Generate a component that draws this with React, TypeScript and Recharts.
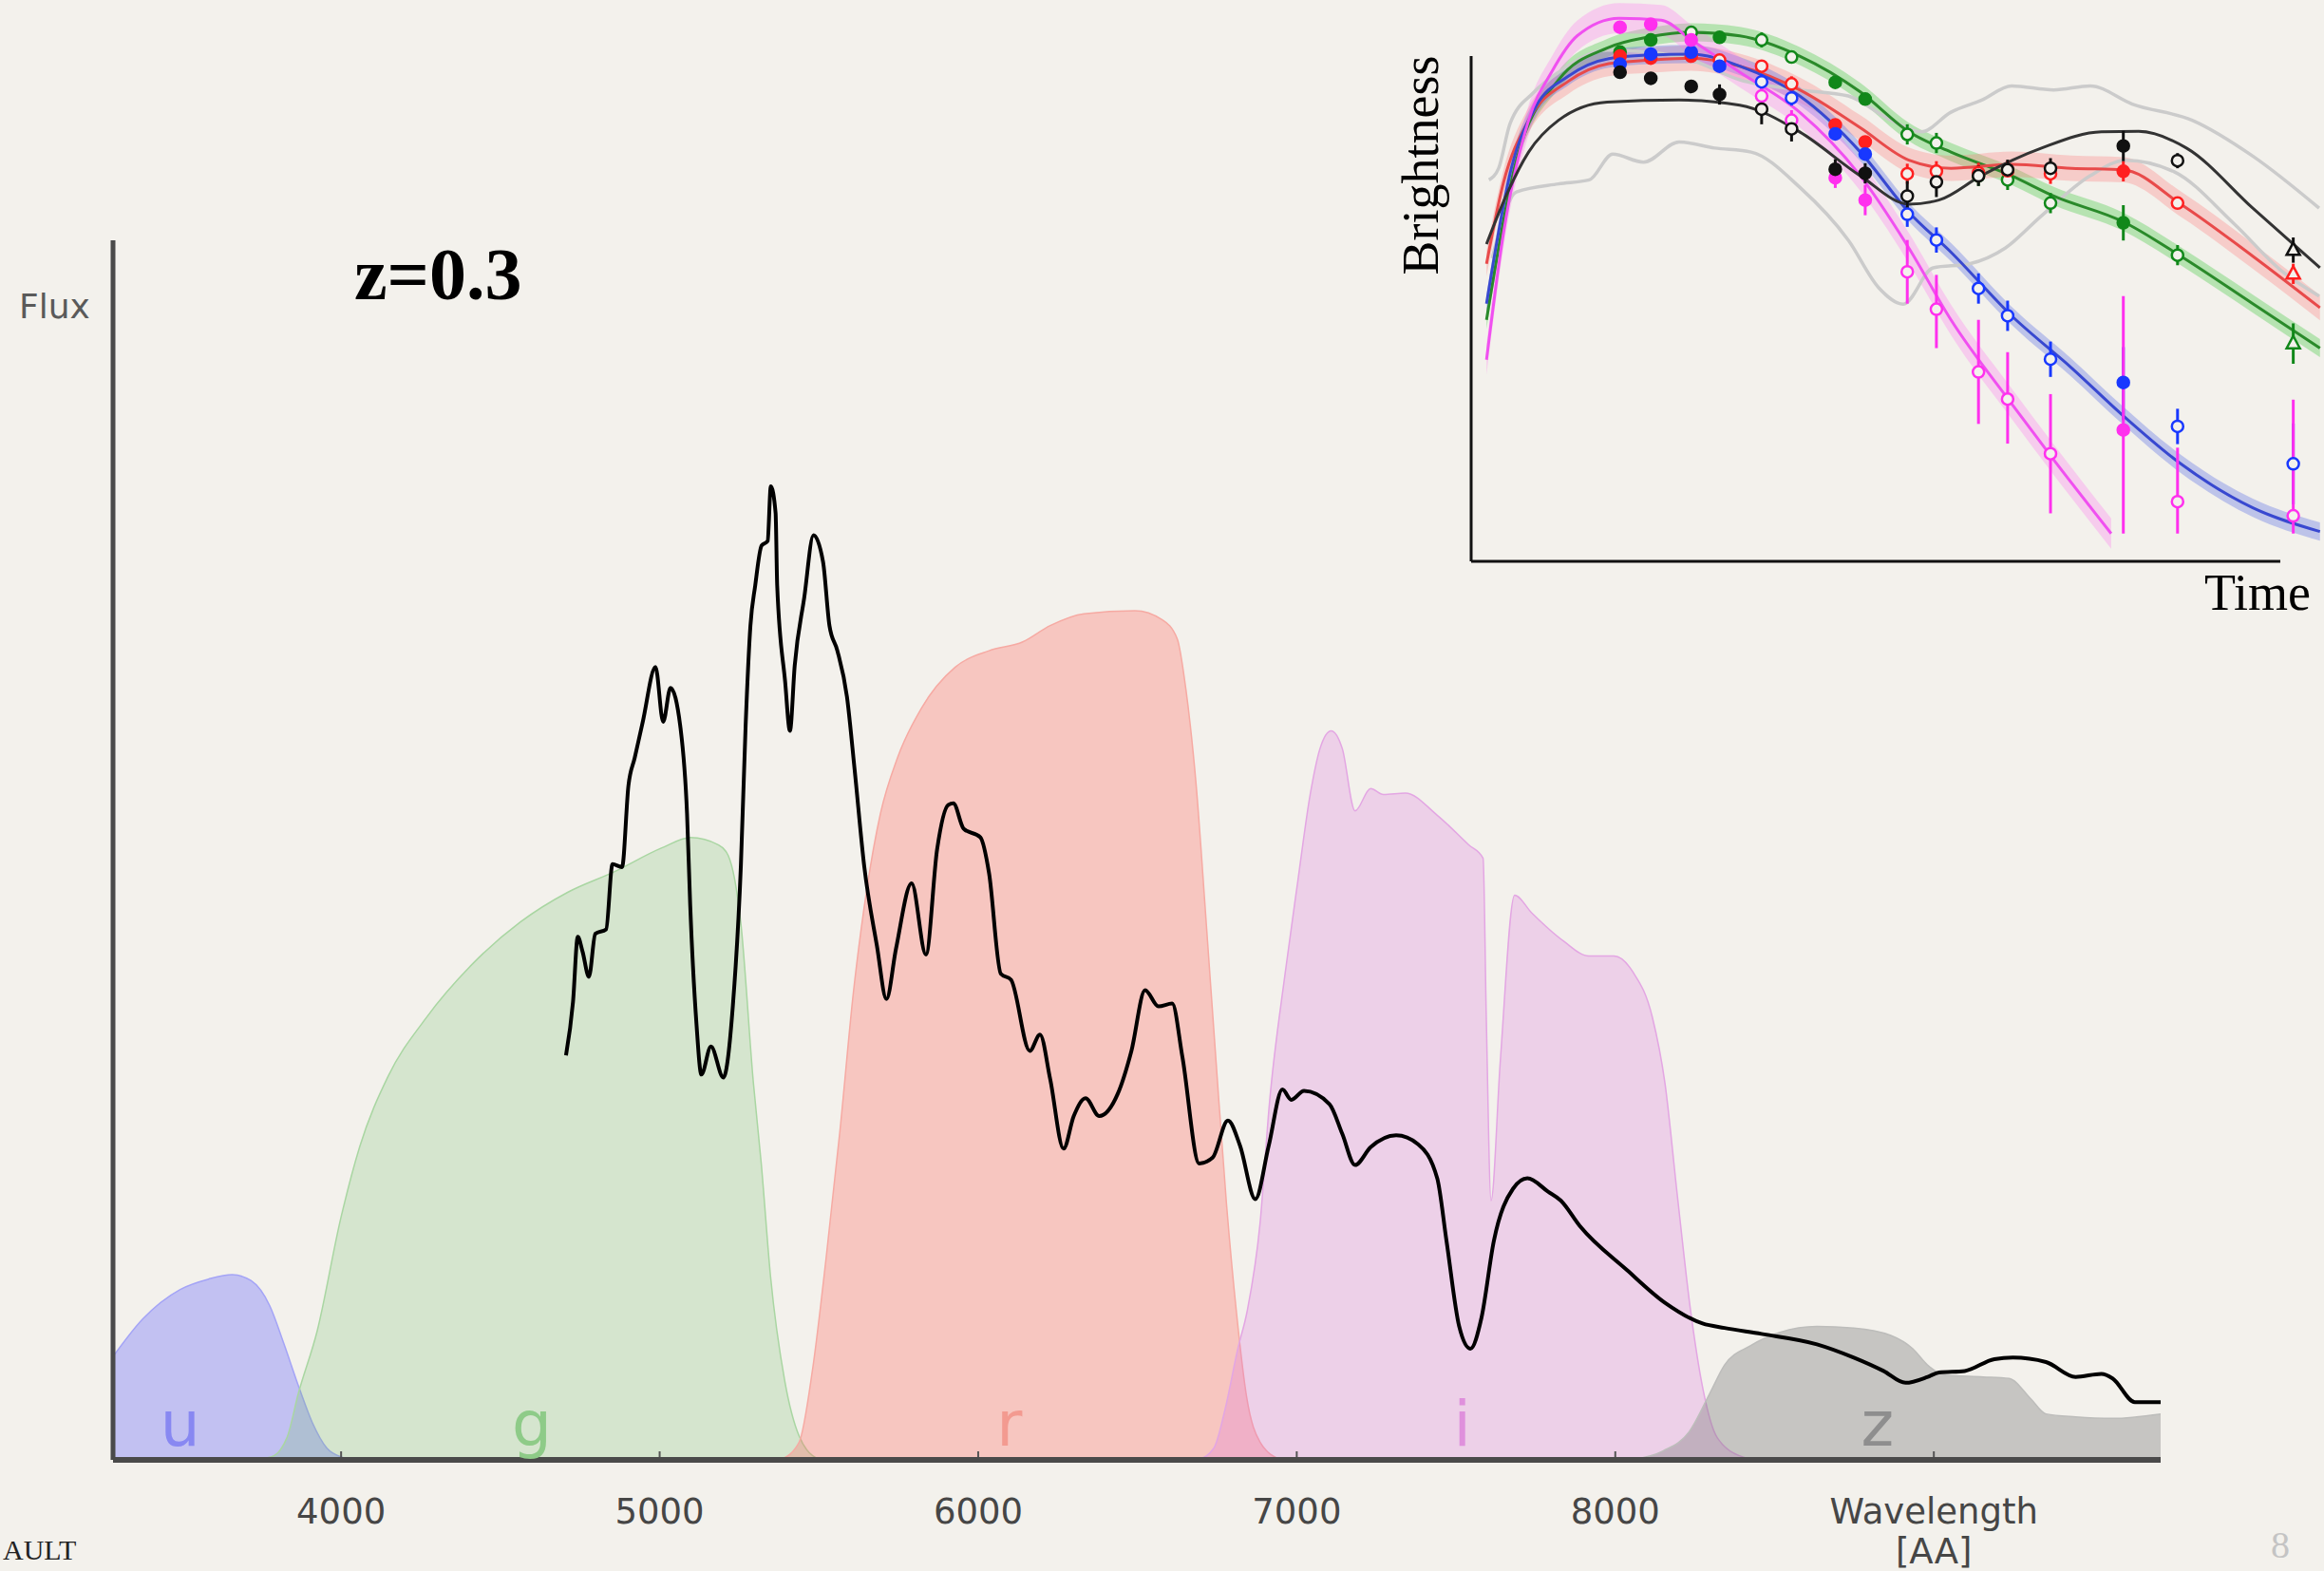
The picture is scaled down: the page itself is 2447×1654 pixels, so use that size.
import React from "react";
import { ComposedChart, Area, Line, Scatter, XAxis, YAxis, ErrorBar, ReferenceLine } from "recharts";

if (typeof document !== "undefined") document.body.style.margin = "0";

const W = 2447;
const H = 1654;
const BG = "#f3f1ec";
const SANS = "'DejaVu Sans', Verdana, sans-serif";
const SERIF = "'Liberation Serif', 'Times New Roman', serif";

// ---- main panel: filter transmission + spectrum, [wavelength AA, flux]
const U_BAND = [[3285, 70], [3377, 95], [3495, 115], [3584, 122], [3658, 125], [3717, 121], [3776, 104], [3821, 78], [3866, 50], [3910, 25], [3955, 8], [4000, 2], [4050, 0]];
const G_BAND = [[3700, 0], [3780, 2], [3830, 15], [3866, 45], [3925, 87], [3999, 163], [4058, 211], [4148, 259], [4266, 298], [4414, 335], [4563, 363], [4711, 383], [4859, 397], [5007, 413], [5097, 420], [5185, 415], [5215, 408], [5255, 362], [5294, 255], [5319, 200], [5348, 124], [5393, 53], [5438, 16], [5500, 0]];
const R_BAND = [[5380, 0], [5438, 12], [5480, 61], [5523, 137], [5566, 222], [5608, 315], [5651, 386], [5693, 436], [5747, 474], [5821, 507], [5928, 535], [6034, 546], [6140, 552], [6226, 563], [6332, 571], [6492, 573], [6577, 567], [6625, 554], [6652, 520], [6684, 456], [6716, 362], [6747, 268], [6779, 174], [6811, 99], [6843, 42], [6885, 12], [6950, 0]];
const I_BAND = [[6690, 0], [6740, 8], [6776, 35], [6815, 75], [6844, 100], [6885, 160], [6914, 240], [6964, 329], [7003, 390], [7043, 450], [7073, 480], [7108, 492], [7143, 480], [7183, 438], [7232, 453], [7272, 449], [7341, 450], [7441, 435], [7540, 415], [7585, 406], [7595, 299], [7610, 175], [7639, 269], [7684, 381], [7738, 369], [7838, 350], [7917, 340], [7996, 340], [8056, 329], [8116, 299], [8156, 254], [8195, 178], [8235, 103], [8275, 48], [8320, 15], [8400, 2], [8450, 0]];
const Z_BAND = [[8050, 0], [8150, 6], [8232, 19], [8297, 45], [8343, 64], [8424, 77], [8517, 86], [8633, 90], [8749, 89], [8865, 84], [8934, 75], [8980, 64], [9039, 57], [9155, 56], [9236, 55], [9305, 41], [9352, 31], [9445, 29], [9561, 28], [9712, 31]];

const SPECTRUM = [[4706, 273], [4728, 309], [4743, 353], [4758, 343], [4778, 326], [4798, 355], [4832, 358], [4852, 402], [4882, 400], [4902, 455], [4922, 474], [4947, 498], [4987, 535], [5011, 498], [5034, 521], [5066, 493], [5086, 436], [5096, 374], [5116, 293], [5131, 260], [5161, 279], [5200, 258], [5230, 307], [5255, 401], [5270, 496], [5285, 563], [5300, 590], [5320, 617], [5339, 620], [5349, 657], [5364, 639], [5369, 590], [5394, 525], [5409, 492], [5424, 536], [5454, 582], [5483, 624], [5513, 606], [5533, 563], [5558, 546], [5588, 515], [5612, 466], [5642, 401], [5682, 347], [5712, 311], [5742, 345], [5791, 389], [5836, 341], [5871, 412], [5906, 442], [5922, 443], [5954, 426], [6007, 420], [6034, 396], [6071, 328], [6103, 324], [6162, 276], [6194, 287], [6226, 257], [6268, 210], [6300, 232], [6337, 244], [6380, 232], [6438, 247], [6481, 276], [6524, 317], [6566, 306], [6609, 308], [6641, 272], [6694, 200], [6736, 204], [6784, 229], [6822, 212], [6870, 176], [6912, 212], [6955, 250], [6983, 243], [7023, 249], [7103, 240], [7143, 220], [7183, 199], [7232, 211], [7312, 219], [7381, 213], [7441, 190], [7470, 148], [7510, 90], [7545, 75], [7580, 96], [7619, 148], [7679, 183], [7724, 190], [7789, 181], [7829, 175], [7888, 158], [8037, 128], [8156, 106], [8274, 92], [8343, 89], [8459, 85], [8633, 78], [8749, 69], [8842, 60], [8911, 52], [8981, 56], [9016, 59], [9097, 60], [9190, 68], [9248, 69], [9352, 66], [9445, 56], [9526, 58], [9561, 55], [9631, 39], [9712, 39]];

const WAVE_TICKS = [4000, 5000, 6000, 7000, 8000, 9000];
const FILTER_NAMES = ["u", "g", "r", "i", "z"];
const FILTER_CENTERS = [3495, 4599, 6098, 7520, 8823];

const FILTER_STYLE = [
  { data: U_BAND, fill: "rgb(100,100,255)", op: 0.34, stroke: "#a4a4f6", text: "#8888f2" },
  { data: G_BAND, fill: "rgb(110,185,100)", op: 0.22, stroke: "#a9d6a2", text: "#8ecb88" },
  { data: R_BAND, fill: "rgb(255,110,100)", op: 0.32, stroke: "#f6aaa3", text: "#f39a90" },
  { data: I_BAND, fill: "rgb(220,110,220)", op: 0.25, stroke: "#e3a6e3", text: "#df90dc" },
  { data: Z_BAND, fill: "rgb(120,120,120)", op: 0.36, stroke: "#bdbdbb", text: "#8e8e8e" },
];

// ---- inset: light curves, [time, brightness]
const C_BLACK = [[1.9, 62.8], [4.5, 73], [7.1, 81], [10.8, 87.3], [16.8, 90.9], [25.7, 91.3], [33.2, 90.3], [40.6, 85], [48.1, 76.3], [54.1, 70.7], [57.8, 71.5], [63, 76.3], [70.5, 81.8], [77.9, 85], [82.5, 85.1], [88.4, 81.8], [96.6, 69.9], [104.9, 58.1]];
const C_RED = [[1.9, 58.9], [4, 75], [7.1, 87.3], [12, 95], [17, 98.5], [22, 99.2], [27.2, 99.6], [33.2, 98], [40.6, 93.3], [48.1, 85.8], [54.1, 79.4], [59.3, 77.8], [66.8, 78.6], [74.2, 77.8], [80.6, 77.5], [87.7, 70.7], [96.6, 60.4], [104.9, 50.2]];
const C_GREEN = [[1.9, 47.8], [5.6, 79.4], [10.8, 95.3], [16.8, 101.6], [22, 103.8], [27.2, 104.7], [33.2, 104], [40.6, 100], [48.1, 92.9], [54.1, 85], [59.3, 81], [66.8, 76.3], [72, 72.3], [80.6, 67.2], [87.7, 60.4], [96.6, 51], [104.9, 42.2]];
const C_BLUE = [[1.9, 51], [5, 78], [8, 90], [12, 96], [17, 99.5], [22, 100.2], [27.2, 100.4], [33.2, 98], [40.6, 92.1], [48.1, 81], [54.1, 69.1], [59.3, 61.2], [66.8, 48.6], [74.2, 38.3], [80.6, 28.8], [87.7, 19.3], [96.6, 10.6], [104.9, 5.9]];
const C_MAGENTA = [[1.9, 39.9], [4, 65], [7.1, 87.3], [10, 97], [13.1, 104], [18.3, 107.5], [23.5, 107.1], [27.2, 103.2], [33.2, 96.8], [40.6, 88.9], [48.1, 76.3], [54.1, 62], [59.3, 47.8], [66.8, 31.2], [72, 20.1], [79.1, 5.5]];
const C_GRAY_A = [[2.2, 75.5], [3.4, 77.8], [4.8, 86.6], [7.8, 92.9], [10.8, 96.8], [16.8, 101.2], [21.9, 100.8], [27.2, 99.2], [33.2, 95.3], [40.7, 93.3], [46.6, 92.1], [51.9, 87.3], [55.6, 85], [59.3, 88.9], [63.1, 91.3], [66.8, 94.1], [72, 93.3], [76.5, 94.1], [81.7, 90.5], [89.1, 87.3], [96.6, 80.2], [104.8, 69.9]];
const C_GRAY_B = [[2.6, 60], [5.6, 73.1], [10.8, 74.7], [14.6, 75.5], [17.5, 80.6], [21.3, 79], [25.7, 83], [30.1, 81.8], [34.6, 81], [40.7, 73.9], [46.6, 63.6], [50.4, 54.1], [53.4, 50.9], [57.1, 58.1], [61.6, 58.9], [66, 62], [70.5, 68.4], [76.5, 76.3], [80.9, 79.4], [86.9, 77.1], [94.3, 66.8], [100.3, 57.3], [104.8, 52.5]];

// observations: [time, brightness, marker (f filled / o open / v triangle), err down, err up]
const P_MAGENTA = [[18.4, 105.7, "f", 1, 1], [22.2, 106.3, "f", 1, 1], [27.2, 103.2, "f", 1, 1], [35.9, 92.1, "o", 2, 2], [39.6, 87.3, "o", 2, 2], [45, 75.9, "f", 2, 2], [48.7, 71.5, "f", 3, 3], [53.9, 57.3, "o", 6.3, 6.3], [57.5, 49.9, "o", 7.7, 6.8], [62.7, 37.5, "o", 10.3, 10.3], [66.3, 32.1, "o", 8.8, 9.3], [71.6, 21.3, "o", 11.8, 11.8], [80.6, 26, "f", 20.5, 26.5], [87.3, 11.8, "o", 6.3, 10.7], [101.6, 9, "o", 3.5, 23]];
const P_BLUE = [[18.4, 98.4, "f", 1, 1], [22.2, 100.4, "f", 1, 1], [27.2, 100.8, "f", 1, 1], [30.7, 98, "f", 1, 1], [35.9, 94.9, "o", 1.5, 1.5], [39.6, 91.7, "o", 1.5, 1.5], [45, 84.6, "f", 1, 1], [48.7, 80.6, "f", 1, 1], [53.9, 68.7, "o", 2.5, 2.5], [57.5, 63.6, "o", 2.5, 2.5], [62.7, 54, "o", 3, 3], [66.3, 48.6, "o", 3, 3], [71.6, 40, "o", 3.5, 3.5], [80.6, 35.4, "f", 7.5, 7], [87.3, 26.7, "o", 3.5, 3.5], [101.6, 19.3, "o", 8, 8]];
const P_RED = [[18.4, 100, "f", 1, 1], [22.2, 99.6, "f", 1, 1], [27.2, 100, "f", 1, 1], [30.7, 99.2, "o", 1, 1], [35.9, 98, "o", 1, 1], [39.6, 94.5, "o", 1.5, 1.5], [45, 86.4, "f", 1, 1], [48.7, 83, "f", 1, 1], [53.9, 76.7, "o", 2, 2], [57.5, 77.2, "o", 2, 2], [62.7, 76.9, "o", 2, 2], [66.3, 77.3, "o", 2, 2], [71.6, 76.7, "o", 2, 2], [80.6, 77.2, "f", 2, 2], [87.3, 70.9, "o", 1, 1], [101.6, 56.9, "v", 2, 2]];
const P_GREEN = [[18.4, 100.8, "f", 1, 1], [22.2, 103.2, "f", 1, 1], [27.2, 104.7, "o", 1, 1], [30.7, 103.7, "f", 1, 1], [35.9, 103.2, "o", 1.5, 1.5], [39.6, 99.8, "o", 1, 1], [45, 94.8, "f", 1, 1], [48.7, 91.5, "f", 1, 1], [53.9, 84.5, "o", 2, 2], [57.5, 82.8, "o", 2, 2], [62.7, 76.3, "o", 2, 2], [66.3, 75.5, "o", 2, 2], [71.6, 70.9, "o", 2, 2], [80.6, 67, "f", 3.5, 3.5], [87.3, 60.6, "o", 2, 2], [101.6, 43.1, "v", 4, 4]];
const P_BLACK = [[18.4, 96.8, "f", 1, 1], [22.2, 95.6, "f", 1, 1], [27.2, 94, "f", 1, 1], [30.7, 92.4, "f", 2, 2], [35.9, 89.5, "o", 3, 3], [39.6, 85.6, "o", 2.5, 2.5], [45, 77.6, "f", 2, 2], [48.7, 76.8, "f", 2, 2], [53.9, 72.3, "o", 3, 3], [57.5, 75.1, "o", 3, 3], [62.7, 76.3, "o", 2, 2], [66.3, 77.5, "o", 2, 2], [71.6, 77.8, "o", 2, 2], [80.6, 82.2, "f", 3, 3], [87.3, 79.3, "o", 1.5, 1.5], [101.6, 61.6, "v", 2.5, 2.5]];

const SERIES = [
  { curve: C_GREEN, pts: P_GREEN, line: "#2a8a2a", mark: "#11881a", band: "rgba(70,200,70,0.35)", half: 1.8 },
  { curve: C_RED, pts: P_RED, line: "#e84a4a", mark: "#ff2020", band: "rgba(255,120,120,0.3)", half: 2.5 },
  { curve: C_BLUE, pts: P_BLUE, line: "#3848d0", mark: "#1838ff", band: "rgba(90,110,230,0.35)", half: 1.8 },
  { curve: C_MAGENTA, pts: P_MAGENTA, line: "#f050f0", mark: "#ff30ee", band: "rgba(255,120,240,0.3)", half: 3 },
  { curve: C_BLACK, pts: P_BLACK, line: "#333333", mark: "#111111", band: null, half: 0 },
];

const toWF = (arr: number[][]) => arr.map(([w, f]) => ({ w, f }));
const toTB = (arr: number[][]) => arr.map(([t, b]) => ({ t, b }));
const toPts = (arr: any[][]) => arr.map(([t, b, k, lo, hi]) => ({ t, b, k, e: [lo, hi] }));

function WaveTick(props: any) {
  const { x, y, payload } = props;
  const v = payload.value;
  const common = { textAnchor: "middle" as const, fontFamily: SANS, fontSize: 37, fill: "#464646" };
  return (
    <g>
      <line x1={x} x2={x} y1={y - 3} y2={y - 9} stroke="#555" strokeWidth={2} />
      {v === 9000 ? (
        <text x={x} y={y + 67} {...common}>
          <tspan x={x}>Wavelength</tspan>
          <tspan x={x} dy={42}>[AA]</tspan>
        </text>
      ) : (
        <text x={x} y={y + 67} {...common}>{v}</text>
      )}
    </g>
  );
}

const labelShape = (p: any) => (
  <text x={p.cx} y={p.cy - 15} textAnchor="middle" fontFamily={SANS} fontSize={66} fill={p.payload.color}>
    {p.payload.name}
  </text>
);

const markerShape = (color: string) => (p: any) => {
  const { cx, cy, payload } = p;
  if (payload.k === "v") {
    return <path d={`M${cx},${cy - 8} L${cx + 7},${cy + 5} L${cx - 7},${cy + 5} Z`} fill={BG} stroke={color} strokeWidth={2.5} />;
  }
  return <circle cx={cx} cy={cy} r={6} fill={payload.k === "f" ? color : BG} stroke={color} strokeWidth={2.5} />;
};

export default function App() {
  const labels = FILTER_NAMES.map((name, i) => ({ name, w: FILTER_CENTERS[i], f: 0, color: FILTER_STYLE[i].text }));

  return (
    <div style={{ position: "relative", width: W, height: H, background: BG, overflow: "hidden" }}>
      <div style={{ position: "absolute", left: 0, top: 0 }}>
        <ComposedChart width={W} height={H} margin={{ top: 253, right: 172, bottom: 57, left: 99 }}>
          <XAxis
            type="number"
            dataKey="w"
            domain={[3284, 9712]}
            ticks={WAVE_TICKS}
            interval={0}
            allowDataOverflow
            height={60}
            tickSize={0}
            tickMargin={0}
            tickLine={false}
            axisLine={{ stroke: "#4a4a4a", strokeWidth: 6 }}
            tick={(p: any) => <WaveTick {...p} />}
          />
          <YAxis
            type="number"
            domain={[0, 823]}
            allowDataOverflow
            width={20}
            tick={false}
            tickLine={false}
            axisLine={{ stroke: "#4a4a4a", strokeWidth: 5 }}
          />
          {FILTER_STYLE.map((fl, i) => (
            <Area
              key={FILTER_NAMES[i]}
              data={toWF(fl.data)}
              dataKey="f"
              type="monotone"
              fill={fl.fill}
              fillOpacity={fl.op}
              stroke={fl.stroke}
              strokeWidth={1.5}
              isAnimationActive={false}
            />
          ))}
          <Scatter data={labels} dataKey="f" shape={labelShape} isAnimationActive={false} />
          <Line
            data={toWF(SPECTRUM)}
            dataKey="f"
            type="monotone"
            stroke="#000"
            strokeWidth={4}
            dot={false}
            isAnimationActive={false}
          />
        </ComposedChart>
      </div>

      <div style={{ position: "absolute", left: 1539, top: 0 }}>
        <ComposedChart width={908} height={600} margin={{ top: 0, right: 0, bottom: 9, left: 10 }}>
          <XAxis type="number" dataKey="t" domain={[0, 105.4]} allowDataOverflow hide />
          <YAxis type="number" domain={[0, 111.1]} allowDataOverflow hide />
          <Line data={toTB(C_GRAY_A)} dataKey="b" type="monotone" stroke="#cbcbcb" strokeWidth={3.5} dot={false} isAnimationActive={false} />
          <Line data={toTB(C_GRAY_B)} dataKey="b" type="monotone" stroke="#cbcbcb" strokeWidth={3.5} dot={false} isAnimationActive={false} />
          {SERIES.filter((s) => s.band).map((s, i) => (
            <Area
              key={`band-${i}`}
              data={toTB(s.curve)}
              dataKey={(d: any) => [d.b - s.half, d.b + s.half]}
              type="monotone"
              fill={s.band as string}
              fillOpacity={1}
              stroke="none"
              isAnimationActive={false}
            />
          ))}
          {SERIES.map((s, i) => (
            <Line
              key={`curve-${i}`}
              data={toTB(s.curve)}
              dataKey="b"
              type="monotone"
              stroke={s.line}
              strokeWidth={3}
              dot={false}
              isAnimationActive={false}
            />
          ))}
          {SERIES.map((s, i) => (
            <Scatter key={`pts-${i}`} data={toPts(s.pts)} dataKey="b" shape={markerShape(s.mark)} isAnimationActive={false}>
              <ErrorBar dataKey="e" direction="y" width={0} stroke={s.mark} strokeWidth={3} />
            </Scatter>
          ))}
          <ReferenceLine segment={[{ x: 0, y: 0 }, { x: 0, y: 100 }]} stroke="#111" strokeWidth={3} />
          <ReferenceLine segment={[{ x: 0, y: 0 }, { x: 100, y: 0 }]} stroke="#111" strokeWidth={3} />
        </ComposedChart>
      </div>

      <svg width={W} height={H} style={{ position: "absolute", left: 0, top: 0, pointerEvents: "none" }}>
        <text x={20} y={335} fontFamily={SANS} fontSize={36} fill="#5a5a5a">Flux</text>
        <text x={373} y={315} fontFamily={SERIF} fontWeight="bold" fontSize={78} fill="#000">z=0.3</text>
        <text transform="translate(1514,174) rotate(-90)" textAnchor="middle" fontFamily={SERIF} fontSize={54} fill="#000">Brightness</text>
        <text x={2377} y={642} textAnchor="middle" fontFamily={SERIF} fontSize={54} fill="#000">Time</text>
        <text x={3} y={1642} fontFamily={SERIF} fontSize={30} fill="#222">AULT</text>
        <text x={2401} y={1640} textAnchor="middle" fontFamily={SERIF} fontSize={40} fill="#c4c4c4">8</text>
      </svg>
    </div>
  );
}
